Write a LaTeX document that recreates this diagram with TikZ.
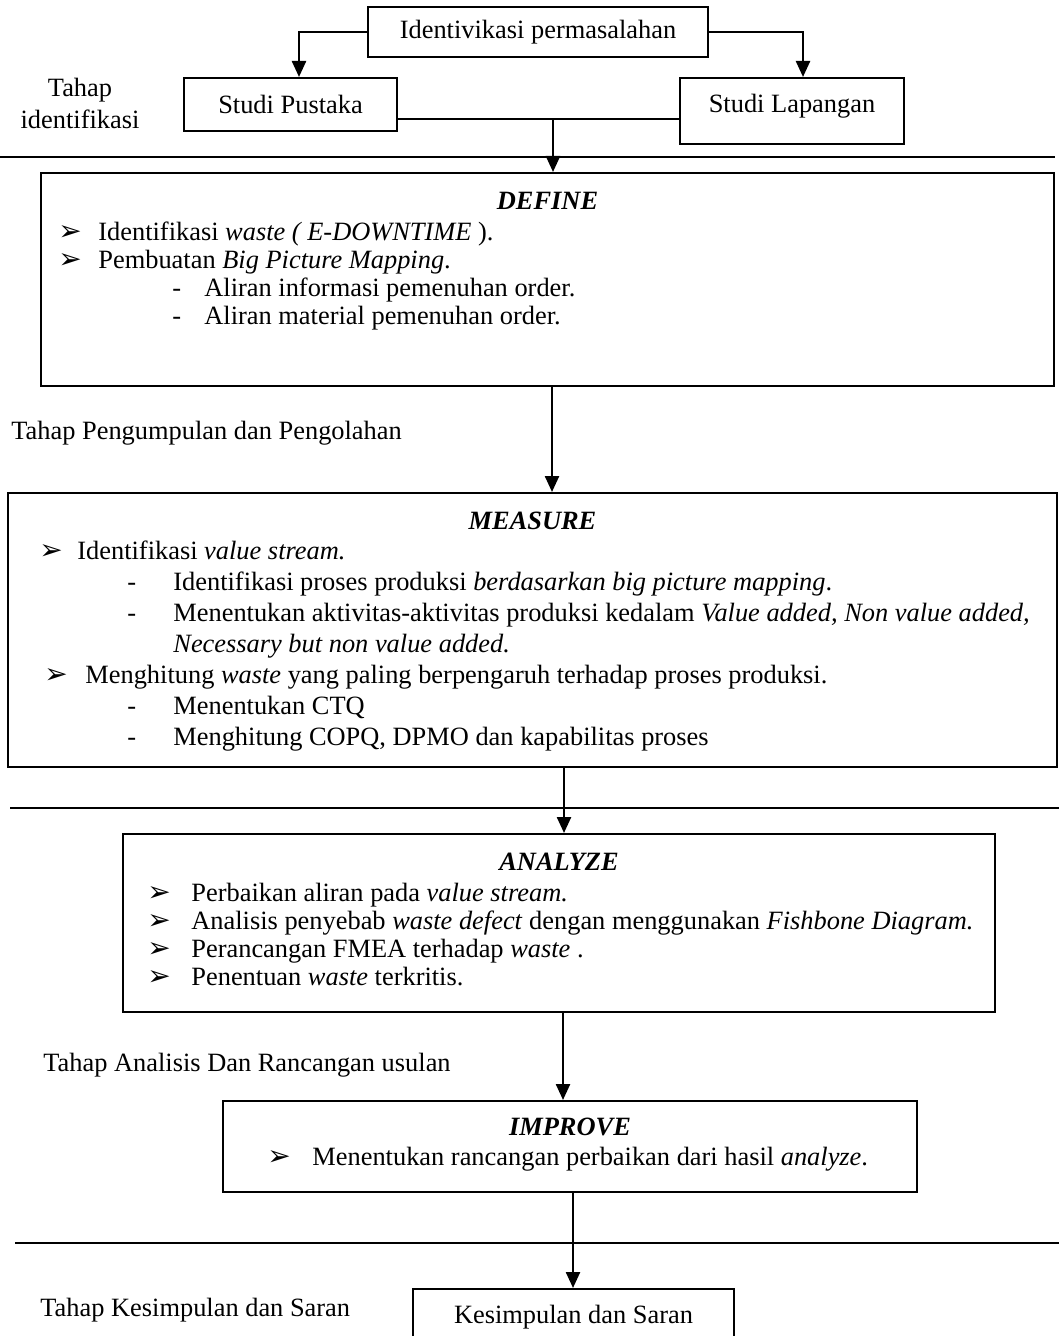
\documentclass[tikz,border=0pt]{standalone}
\usepackage{fontspec}
\setmainfont{Liberation Serif}
\newfontfamily\dingfont{DejaVu Sans}
\usetikzlibrary{positioning,arrows.meta,calc}
\tikzstyle{sbox}=[rectangle, draw=black, line width=1pt, inner sep=0pt]
\tikzstyle{tbox}=[rectangle, inner sep=0pt, align=left]
\tikzstyle{ttl}=[inner sep=0pt, font=\fontsize{13.2}{16}\bfseries\itshape]
\tikzstyle{lbl}=[inner sep=0pt, anchor=west]
\tikzstyle{pline}=[-{Triangle[length=8pt,width=7pt]}, line width=1.2pt]
\tikzstyle{jline}=[-, line width=1pt]
\tikzstyle{sepline}=[-, line width=1.1pt]
\newcommand{\bul}[2][19pt]{\makebox[#1][l]{{\dingfont\fontsize{14}{14}\selectfont ➢}}#2}
\newcommand{\dsh}[3]{\hspace*{#1}\makebox[#2][l]{-}#3}

\begin{document}
\begin{tikzpicture}[x=0.5pt, y=-0.5pt, font=\fontsize{13.2}{16}\selectfont]
\useasboundingbox (0,0) rectangle (1059,1336);

% tahap identifikasi
\node (IDP) [sbox, minimum width=170pt, minimum height=25pt] at (538,32) {Identivikasi permasalahan};
\node (STP) [sbox, minimum width=106.5pt, minimum height=26.5pt] at (290.5,104.5) {Studi Pustaka};
\node (STL) [sbox, minimum width=112pt, minimum height=33pt] at (792,111) {};
\node (STLtxt) [inner sep=0pt] at ([yshift=-14.5pt]STL.north) {Studi Lapangan};
\node (LBLid) [align=center, inner sep=0pt] at (80,103) {Tahap\\identifikasi};
\coordinate (LA) at (299,0);
\coordinate (RA) at (803,0);
\coordinate (JOIN) at (553,119);
\draw[pline] (IDP.west) -| (STP.north -| LA);
\draw[pline] (IDP.east) -| (STL.north -| RA);
\draw[jline] (STP.east |- JOIN) -- (STL.west |- JOIN);
\draw[sepline] (0,157) -- (1055,157);

% define
\node (DEF) [sbox, minimum width=506.5pt, minimum height=106.5pt] at (547.5,279.5) {};
\node (DEFttl) [ttl, below=10pt of DEF.north] {DEFINE};
\node (DEFtxt) [tbox, font=\fontsize{13.2}{14}\selectfont, below right=25pt and 9pt of DEF.north west]
  {\bul[20pt]{Identifikasi \textit{waste ( E-DOWNTIME} ).}\\
   \bul[20pt]{Pembuatan \textit{Big Picture Mapping}.}\\
   \dsh{57pt}{16pt}{Aliran informasi pemenuhan order.}\\
   \dsh{57pt}{16pt}{Aliran material pemenuhan order.}};
\draw[pline] (JOIN) -- (JOIN |- DEF.north);

% tahap pengumpulan dan pengolahan
\node (LBLpp) [lbl] at (11,433) {Tahap Pengumpulan dan Pengolahan};
\node (MEA) [sbox, minimum width=524.5pt, minimum height=137pt] at (532.5,630) {};
\node (MEAttl) [ttl, below=10pt of MEA.north] {MEASURE};
\node (MEAtxt) [tbox, font=\fontsize{13.2}{15.5}\selectfont, below right=24.5pt and 16pt of MEA.north west]
  {\bul[19pt]{Identifikasi \textit{value stream.}}\\
   \dsh{44pt}{23pt}{Identifikasi proses produksi \textit{berdasarkan big picture mapping}.}\\
   \dsh{44pt}{23pt}{Menentukan aktivitas-aktivitas produksi kedalam \textit{Value added, Non value added,}}\\
   \hspace*{67pt}\textit{Necessary but non value added.}\\
   \hspace*{2.5pt}\bul[20.5pt]{Menghitung \textit{waste} yang paling berpengaruh terhadap proses produksi.}\\
   \dsh{44pt}{23pt}{Menentukan CTQ}\\
   \dsh{44pt}{23pt}{Menghitung COPQ, DPMO dan kapabilitas proses}};
\coordinate (A1) at (552,0);
\draw[pline] (DEF.south -| A1) -- (MEA.north -| A1);
\draw[sepline] (10,808) -- (1059,808);

% tahap analisis dan rancangan usulan
\node (ANA) [sbox, minimum width=436pt, minimum height=89pt] at (559,923) {};
\node (ANAttl) [ttl, below=10pt of ANA.north] {ANALYZE};
\node (ANAtxt) [tbox, font=\fontsize{13.2}{14}\selectfont, below right=25pt and 12.5pt of ANA.north west]
  {\bul[22pt]{Perbaikan aliran pada \textit{value stream.}}\\
   \bul[22pt]{Analisis penyebab \textit{waste defect} dengan menggunakan \textit{Fishbone Diagram.}}\\
   \bul[22pt]{Perancangan FMEA terhadap \textit{waste} .}\\
   \bul[22pt]{Penentuan \textit{waste} terkritis.}};
\coordinate (A2) at (564,0);
\draw[pline] (MEA.south -| A2) -- (ANA.north -| A2);
\node (LBLar) [lbl] at (43,1065) {Tahap Analisis Dan Rancangan usulan};
\node (IMP) [sbox, minimum width=347pt, minimum height=45.5pt] at (570,1146.5) {};
\node (IMPttl) [ttl, below=9pt of IMP.north] {IMPROVE};
\node (IMPtxt) [tbox, below right=23.5pt and 22.5pt of IMP.north west]
  {\bul[22.5pt]{Menentukan rancangan perbaikan dari hasil \textit{analyze}.}};
\coordinate (A3) at (563,0);
\draw[pline] (ANA.south -| A3) -- (IMP.north -| A3);
\draw[sepline] (15,1243) -- (1059,1243);

% tahap kesimpulan dan saran
\node (LBLks) [lbl] at (40,1310) {Tahap Kesimpulan dan Saran};
\node (KES) [sbox, minimum width=160.5pt, minimum height=28pt] at (573.5,1317) {Kesimpulan dan Saran};
\coordinate (A4) at (573,0);
\draw[pline] (IMP.south -| A4) -- (KES.north -| A4);

\end{tikzpicture}
\end{document}
